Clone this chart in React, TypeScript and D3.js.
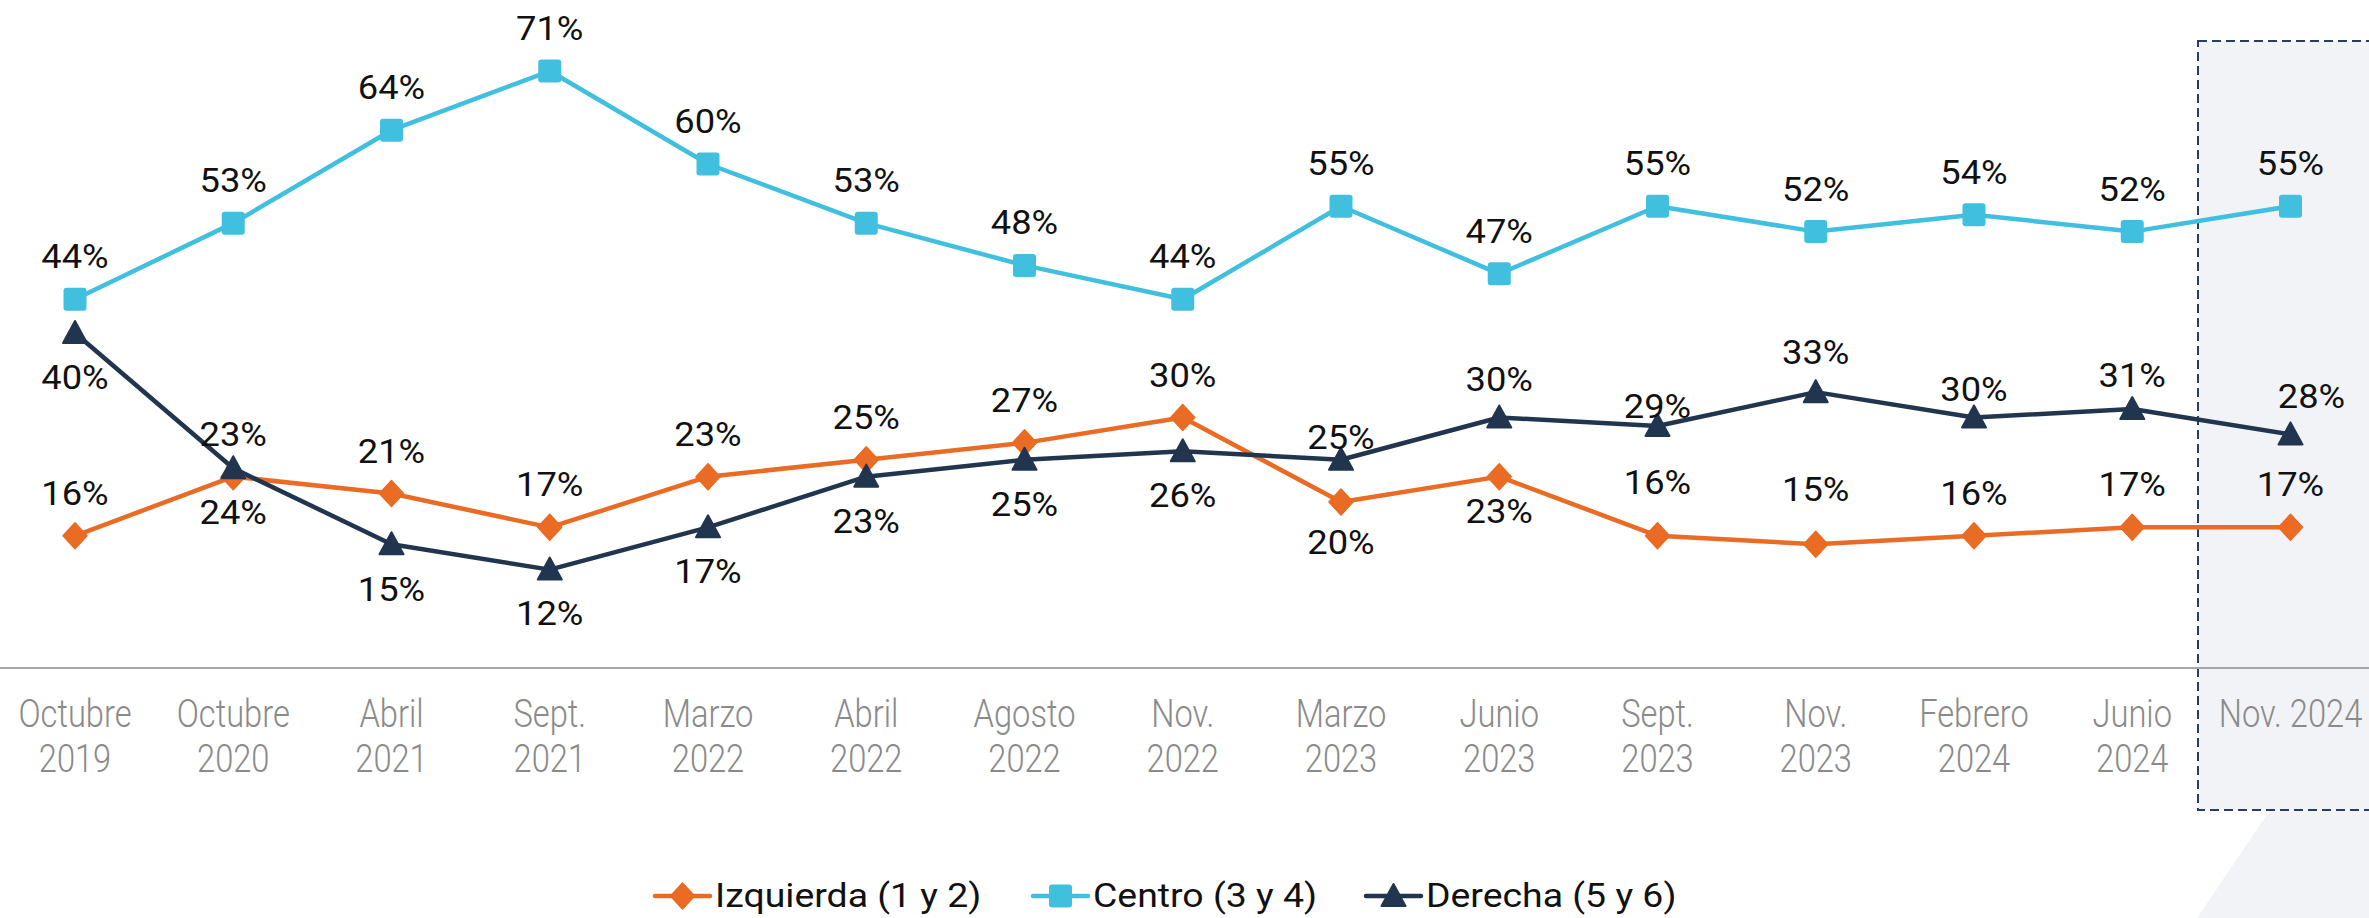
import React from "react";
import * as d3 from "d3";

// ---------- data ----------
const categories: string[][] = [
  ["Octubre", "2019"],
  ["Octubre", "2020"],
  ["Abril", "2021"],
  ["Sept.", "2021"],
  ["Marzo", "2022"],
  ["Abril", "2022"],
  ["Agosto", "2022"],
  ["Nov.", "2022"],
  ["Marzo", "2023"],
  ["Junio", "2023"],
  ["Sept.", "2023"],
  ["Nov.", "2023"],
  ["Febrero", "2024"],
  ["Junio", "2024"],
  ["Nov. 2024"],
];

const izquierda = [16, 23, 21, 17, 23, 25, 27, 30, 20, 23, 16, 15, 16, 17, 17];
const centro = [44, 53, 64, 71, 60, 53, 48, 44, 55, 47, 55, 52, 54, 52, 55];
const derecha = [40, 24, 15, 12, 17, 23, 25, 26, 25, 30, 29, 33, 30, 31, 28];

const seriesNames = ["Izquierda (1 y 2)", "Centro (3 y 4)", "Derecha (5 y 6)"];

// ---------- label placement (layout, not data) ----------
const izquierdaLabelDy = [-31, -31, -31, -31, -31, -31, -31, -31, 52, 46, -42, -43, -31, -31, -31];
const centroLabelDy = [-31, -31, -31, -31, -31, -31, -31, -31, -31, -31, -31, -31, -31, -31, -31];
const derechaLabelDy = [56, 56, 57, 55, 56, 56, 56, 56, -11, -27, -8, -28, -17, -22, -26];
const derechaLabelDx = [0, 0, 0, 0, 0, 0, 0, 0, 0, 0, 0, 0, 0, 0, 21];

// ---------- styles ----------
const W = 2369;
const H = 918;
const COLORS = { izq: "#e96b24", cen: "#41bfde", der: "#22354e" };
const AXIS_Y = 668;

type Shape = "diamond" | "square" | "triangle";

function Marker({ x, y, shape, color }: { x: number; y: number; shape: Shape; color: string }) {
  if (shape === "square") {
    return <rect x={x - 11.5} y={y - 11.5} width={23} height={23} rx={3} fill={color} />;
  }
  if (shape === "diamond") {
    const p = `${x},${y - 13} ${x + 12},${y} ${x},${y + 13} ${x - 12},${y}`;
    return <polygon points={p} fill={color} stroke={color} strokeWidth={1.5} strokeLinejoin="round" />;
  }
  const p = `${x},${y - 12} ${x + 12},${y + 10} ${x - 12},${y + 10}`;
  return <polygon points={p} fill={color} stroke={color} strokeWidth={2} strokeLinejoin="round" />;
}

export default function App() {
  const x = d3
    .scalePoint<number>()
    .domain(d3.range(categories.length))
    .range([75, 2290.5]);
  const y = d3.scaleLinear().domain([0, 100]).range([671, 671 - 845]);

  const line = d3
    .line<number>()
    .x((_, i) => x(i) as number)
    .y((d) => y(d));

  const series = [
    { name: seriesNames[0], values: izquierda, color: COLORS.izq, shape: "diamond" as Shape, dy: izquierdaLabelDy, dx: null as number[] | null },
    { name: seriesNames[1], values: centro, color: COLORS.cen, shape: "square" as Shape, dy: centroLabelDy, dx: null as number[] | null },
    { name: seriesNames[2], values: derecha, color: COLORS.der, shape: "triangle" as Shape, dy: derechaLabelDy, dx: derechaLabelDx },
  ];

  const legendX = [655, 1033, 1366];

  return (
    <svg
      width={W}
      height={H}
      viewBox={`0 0 ${W} ${H}`}
      style={{ position: "absolute", left: 0, top: 0, display: "block", background: "#fff" }}
      fontFamily="Roboto, 'Noto Sans', sans-serif"
    >
      {/* highlight box for latest wave */}
      <polygon points={`2270,810 ${W},810 ${W},${H} 2197,${H}`} fill="#f2f3f7" />
      <rect
        x={2198}
        y={41}
        width={200}
        height={769}
        fill="#f2f3f7"
        stroke="#2c3e57"
        strokeWidth={2}
        strokeDasharray="9 5"
      />

      {/* axis line */}
      <line x1={0} x2={W} y1={AXIS_Y} y2={AXIS_Y} stroke="#a6a6a6" strokeWidth={2} />

      {/* x labels */}
      {categories.map((lines, i) => (
        <g key={`xl${i}`} transform={`translate(${x(i)},0)`}>
          {lines.map((t, j) => (
            <text
              key={j}
              transform={`translate(0,${727 + j * 45}) scale(0.86,1)`}
              textAnchor="middle"
              fontSize={38}
              fontWeight={300}
              fill="#8a8a8a"
            >
              {t}
            </text>
          ))}
        </g>
      ))}

      {/* lines */}
      {series.map((s) => (
        <path key={`p${s.name}`} d={line(s.values) || ""} fill="none" stroke={s.color} strokeWidth={4.5} strokeLinejoin="round" />
      ))}

      {/* markers */}
      {series.map((s) =>
        s.values.map((v, i) => (
          <Marker key={`m${s.name}${i}`} x={x(i) as number} y={y(v)} shape={s.shape} color={s.color} />
        ))
      )}

      {/* value labels */}
      {series.map((s) =>
        s.values.map((v, i) => (
          <text
            key={`t${s.name}${i}`}
            transform={`translate(${(x(i) as number) + (s.dx ? s.dx[i] : 0)},${y(v) + s.dy[i]}) scale(1.1,1)`}
            textAnchor="middle"
            fontSize={33}
            fill="#111"
          >
            {`${v}%`}
          </text>
        ))
      )}

      {/* legend */}
      {series.map((s, k) => (
        <g key={`lg${k}`} transform={`translate(${legendX[k]},0)`}>
          <line x1={0} x2={55} y1={896} y2={896} stroke={s.color} strokeWidth={4.5} strokeLinecap="round" />
          <Marker x={27.5} y={896} shape={s.shape} color={s.color} />
          <text transform={`translate(60,907) scale(1.1,1)`} fontSize={34} fill="#111">
            {s.name}
          </text>
        </g>
      ))}
    </svg>
  );
}
